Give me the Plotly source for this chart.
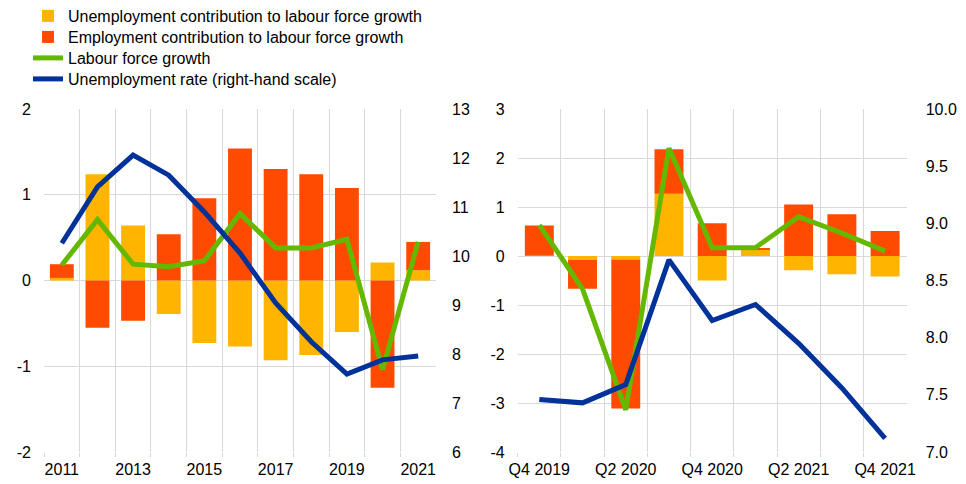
import plotly.graph_objects as go

# ---- Left panel: annual data ----
years = ["2011", "2012", "2013", "2014", "2015", "2016", "2017", "2018", "2019", "2020", "2021"]
year_labels = ["2011", "", "2013", "", "2015", "", "2017", "", "2019", "", "2021"]
unemp_contrib_a = [0.03, 1.24, 0.64, -0.39, -0.73, -0.77, -0.93, -0.87, -0.60, 0.21, 0.12]
emp_contrib_a = [0.16, -0.55, -0.47, 0.54, 0.96, 1.54, 1.30, 1.24, 1.08, -1.25, 0.33]
lf_growth_a = [0.18, 0.71, 0.19, 0.16, 0.23, 0.78, 0.38, 0.38, 0.48, -1.04, 0.45]
unemp_rate_a = [10.26, 11.41, 12.06, 11.65, 10.90, 10.06, 9.04, 8.25, 7.59, 7.88, 7.96]
left_ticks = [-2, -1, 0, 1, 2]
left_ticktext = ["-2", "-1", "0", "1", "2"]
left_rticks = [6, 7, 8, 9, 10, 11, 12, 13]

# ---- Right panel: quarterly data ----
quarters = ["Q4 2019", "Q1 2020", "Q2 2020", "Q3 2020", "Q4 2020",
            "Q1 2021", "Q2 2021", "Q3 2021", "Q4 2021"]
quarter_labels = ["Q4 2019", "", "Q2 2020", "", "Q4 2020", "", "Q2 2021", "", "Q4 2021"]
unemp_contrib_q = [0.01, -0.08, -0.07, 1.27, -0.50, 0.13, -0.29, -0.37, -0.42]
emp_contrib_q = [0.61, -0.59, -3.04, 0.91, 0.67, 0.03, 1.05, 0.85, 0.51]
lf_growth_q = [0.63, -0.67, -3.14, 2.20, 0.17, 0.17, 0.80, 0.47, 0.10]
unemp_rate_q = [7.46, 7.43, 7.59, 8.68, 8.15, 8.29, 7.95, 7.56, 7.12]
right_ticks = [-4, -3, -2, -1, 0, 1, 2, 3]
right_ticktext = ["-4", "-3", "-2", "-1", "0", "1", "2", "3"]
right_rticks = [7.0, 7.5, 8.0, 8.5, 9.0, 9.5, 10.0]

YELLOW = "#FFB400"
RED = "#FF4B00"
GREEN = "#65B800"
BLUE = "#003299"
GRID = "#d9d9d9"
FONT = "Liberation Sans, Arial, sans-serif"
FS = 16

fig = go.Figure()

def add_panel(cats, uc, ec, lf, ur, xa, ya, ya2, show):
    fig.add_trace(go.Bar(x=cats, y=uc, name="Unemployment contribution to labour force growth",
                         marker=dict(color=YELLOW, line=dict(width=0)), xaxis=xa, yaxis=ya,
                         showlegend=show, legend="legend"))
    fig.add_trace(go.Bar(x=cats, y=ec, name="Employment contribution to labour force growth",
                         marker=dict(color=RED, line=dict(width=0)), xaxis=xa, yaxis=ya,
                         showlegend=show, legend="legend2"))
    fig.add_trace(go.Scatter(x=cats, y=lf, name="Labour force growth", mode="lines",
                             line=dict(color=GREEN, width=5), xaxis=xa, yaxis=ya,
                             showlegend=show, legend="legend3"))
    fig.add_trace(go.Scatter(x=cats, y=ur, name="Unemployment rate (right-hand scale)", mode="lines",
                             line=dict(color=BLUE, width=5), xaxis=xa, yaxis=ya2,
                             showlegend=show, legend="legend4"))

add_panel(years, unemp_contrib_a, emp_contrib_a, lf_growth_a, unemp_rate_a, "x", "y", "y2", True)
add_panel(quarters, unemp_contrib_q, emp_contrib_q, lf_growth_q, unemp_rate_q, "x2", "y3", "y4", False)

W, H = 966, 484
OFF = 8  # page body margin
def px_x(p):
    return (p - OFF) / W
def px_y(p):
    return 1 - (p - OFF) / H

ydom = [px_y(452), px_y(109)]
tickfont = dict(family=FONT, size=FS, color="#000000")

xcommon = dict(type="category", tickson="boundaries", showgrid=True, gridcolor=GRID, gridwidth=1,
               ticks="outside", ticklen=4, tickcolor=GRID, showline=False, zeroline=False,
               tickangle=0, tickfont=tickfont, ticklabelstandoff=6, fixedrange=True)
ycommon = dict(showgrid=True, gridcolor=GRID, gridwidth=1, zeroline=True, zerolinecolor=GRID,
               zerolinewidth=1, showline=False, ticks="", ticklen=0, tickfont=tickfont,
               fixedrange=True)
y2common = dict(showgrid=False, zeroline=False, showline=False, ticks="", ticklen=0,
                tickfont=tickfont, fixedrange=True)

def legend_at(row_y):
    return dict(x=px_x(28), y=px_y(row_y), xanchor="left", yanchor="middle",
                orientation="v", font=dict(family=FONT, size=FS, color="#000000"),
                bgcolor="rgba(0,0,0,0)", itemwidth=30)

fig.update_layout(
    width=W, height=H,
    margin=dict(l=0, r=0, t=0, b=0, autoexpand=False),
    paper_bgcolor="white", plot_bgcolor="white",
    barmode="relative", bargap=0.33,
    font=dict(family=FONT, size=FS, color="#000000"),
    legend=legend_at(16),
    legend2=legend_at(37),
    legend3=legend_at(58),
    legend4=legend_at(79),
    xaxis=dict(domain=[px_x(44), px_x(436)], anchor="y", tickvals=years, ticktext=year_labels,
               range=[-0.5, len(years) - 0.5], **xcommon),
    yaxis=dict(domain=ydom, anchor="x", range=[-2, 2], tickvals=left_ticks,
               ticktext=left_ticktext, ticklabelstandoff=12, **ycommon),
    yaxis2=dict(overlaying="y", anchor="x", side="right", range=[6, 13],
                tickvals=left_rticks, ticklabelstandoff=15, **y2common),
    xaxis2=dict(domain=[px_x(517.7), px_x(906.7)], anchor="y3", tickvals=quarters,
                ticktext=quarter_labels, range=[-0.5, len(quarters) - 0.5], **xcommon),
    yaxis3=dict(domain=ydom, anchor="x2", range=[-4, 3], tickvals=right_ticks,
                ticktext=right_ticktext, ticklabelstandoff=12, **ycommon),
    yaxis4=dict(overlaying="y3", anchor="x2", side="right", range=[7.0, 10.0],
                tickvals=right_rticks, tickformat=".1f", ticklabelstandoff=18, **y2common),
)

fig.write_html("out.html")
